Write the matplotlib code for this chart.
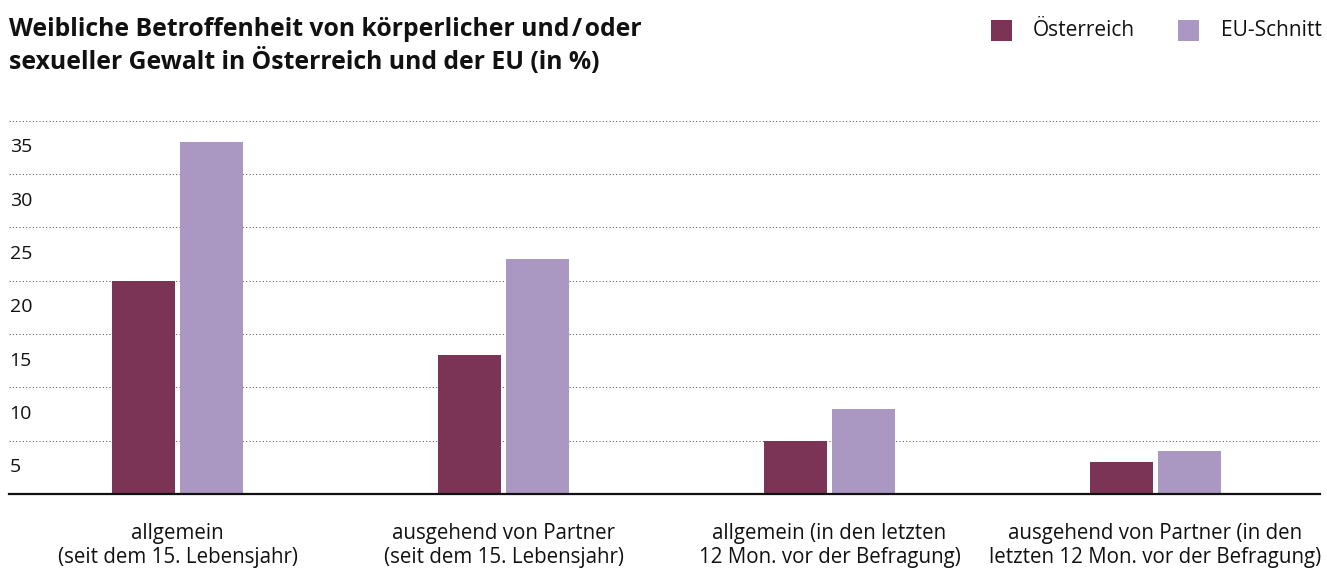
import matplotlib
matplotlib.use("Agg")
import matplotlib.pyplot as plt
from matplotlib.patches import Rectangle
from matplotlib.transforms import blended_transform_factory
import numpy as np

plt.rcParams["font.family"] = ["Open Sans", "DejaVu Sans"]

# Data
categories = [
    "allgemein\n(seit dem 15. Lebensjahr)",
    "ausgehend von Partner\n(seit dem 15. Lebensjahr)",
    "allgemein (in den letzten\n12 Mon. vor der Befragung)",
    "ausgehend von Partner (in den\nletzten 12 Mon. vor der Befragung)",
]
series_names = ["Österreich", "EU-Schnitt"]
austria = [20, 13, 5, 3]
eu_avg = [33, 22, 8, 4]
y_ticks = [5, 10, 15, 20, 25, 30, 35]

title = ("Weibliche Betroffenheit von körperlicher und\u200a/\u200aoder\n"
         "sexueller Gewalt in Österreich und der EU (in %)")

colors = ["#7B3455", "#AA98C3"]

W, H, DPI = 1327, 569, 100
fig = plt.figure(figsize=(W / DPI, H / DPI), dpi=DPI)

# Axes placement in pixels
left_px, right_px, top_px, bottom_px = 9, 1320, 120, 494
ax = fig.add_axes([left_px / W, (H - bottom_px) / H,
                   (right_px - left_px) / W, (bottom_px - top_px) / H])

x = np.arange(len(categories))
bar_w = 0.193
offset = 0.1043
ax.bar(x - offset, austria, width=bar_w, color=colors[0], zorder=3)
ax.bar(x + offset, eu_avg, width=bar_w, color=colors[1], zorder=3)

ax.set_xlim(-0.517, 3.505)
ax.set_ylim(0, 35.05)

# Dotted horizontal grid
ax.set_yticks(y_ticks)
ax.yaxis.grid(True, color="#555555", linewidth=0.75,
              linestyle=(0, (1, 2.2)), zorder=0)
ax.tick_params(axis="y", length=0, labelleft=False)

# Value labels sit in the band just beneath each grid line
tr = blended_transform_factory(ax.transAxes, ax.transData)
for v in y_ticks:
    ax.text(0.0005, v - 2.5, str(v), transform=tr, ha="left", va="center",
            fontsize=14, color="#111111")

# Category labels
ax.set_xticks(x)
ax.set_xticklabels(categories, fontsize=14.8, color="#111111", linespacing=1.2)
ax.tick_params(axis="x", length=0, pad=21)

for s in ["top", "right", "left"]:
    ax.spines[s].set_visible(False)
ax.spines["bottom"].set_color("#111111")
ax.spines["bottom"].set_linewidth(1.6)
ax.spines["bottom"].set_zorder(4)

# Title
fig.text(9 / W, 1 - 17 / H, title, ha="left", va="top", fontsize=17.8,
         fontweight="bold", color="#111111", linespacing=1.28)

# Legend
sq = 21
leg_items = [(991, 1033), (1178, 1221)]
for (sx, tx), name, c in zip(leg_items, series_names, colors):
    fig.add_artist(Rectangle((sx / W, 1 - 41 / H), sq / W, sq / H,
                             transform=fig.transFigure, color=c, lw=0))
    fig.text(tx / W, 1 - 31 / H, name, ha="left", va="center",
             fontsize=15, color="#111111")

fig.savefig("out.png", dpi=DPI)
